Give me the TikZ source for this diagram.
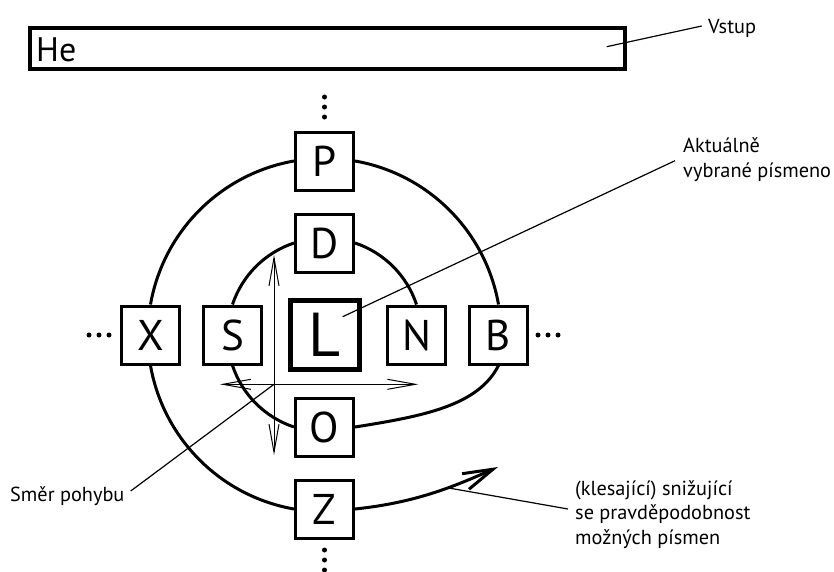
\documentclass[tikz,border=0pt]{standalone}
\usepackage{fontspec}
\setmainfont{PT Sans}
\usetikzlibrary{arrows.meta}
\begin{document}
\begin{tikzpicture}[x=1pt,y=1pt,
  letterbox/.style={draw, line width=3pt, minimum size=58pt, inner sep=0pt,
    font=\fontsize{43}{43}\selectfont},
  currentbox/.style={draw, line width=5pt, minimum size=69pt, inner sep=0pt,
    font=\fontsize{62}{62}\selectfont},
  inputbox/.style={draw, line width=4pt, minimum width=595.5pt, minimum height=41.3pt,
    inner sep=0pt},
  spiral/.style={line width=3pt},
  leader/.style={line width=1.2pt},
  motion/.style={line width=1pt, {Straight Barb[length=28pt,width=10pt]}-{Straight Barb[length=28pt,width=10pt]}},
  label/.style={font=\fontsize{20.3}{24.3}\selectfont, inner sep=0pt, align=left},
  dot/.style={fill=black}
]
\useasboundingbox (0,0) rectangle (834,-571);

% input line
\node (input) [inputbox, anchor=north west] at (27.5,-26) {};
\node (he) [anchor=base west, inner sep=0pt, font=\fontsize{34}{34}\selectfont] at (36,-61) {He};

% letters around the current one
\node (L) [currentbox] at (324.5,-335) {L};
\node (S) [letterbox] at (232.5,-335) {S};
\node (N) [letterbox] at (416.5,-335) {N};
\node (X) [letterbox] at (150.5,-335) {X};
\node (B) [letterbox] at (498.5,-335) {B};
\node (D) [letterbox] at (324.5,-243) {D};
\node (P) [letterbox] at (324.5,-161) {P};
\node (O) [letterbox] at (324.5,-427) {O};
\node (Z) [letterbox] at (324.5,-509) {Z};

% continuation dots
\foreach \y in {97,107,117} \fill[dot] (324.5,-\y) circle (2.5);
\foreach \y in {550,560,570} \fill[dot] (324.5,-\y) circle (2.5);
\foreach \x in {89,99,109} \fill[dot] (\x,-335) circle (2.5);
\foreach \x in {538,548,558} \fill[dot] (\x,-335) circle (2.5);

% spiral through the letters
\coordinate (tip) at (498,-467);
\draw[spiral] (N.north) arc[start angle=18.34, end angle=71.66, radius=96.92]
  (D.west) arc[start angle=108.34, end angle=161.66, radius=96.92]
  (S.south) arc[start angle=198.34, end angle=251.66, radius=96.92];
\draw[spiral] (O.east) .. controls +(9:70) and +(243:45) .. (B.south);
\draw[spiral] (B.north) arc[start angle=9.94, end angle=80.06, radius=176.65]
  (P.west) arc[start angle=99.94, end angle=170.06, radius=176.65]
  (X.south) arc[start angle=189.94, end angle=260.06, radius=176.65];
\draw[spiral, -{Straight Barb[length=30pt,width=17pt]}]
  (Z.east) .. controls +(6:60) and +(204:50) .. coordinate[pos=0.62] (onspiral) (tip);

% directions of movement
\coordinate (up) at (274,-255);
\coordinate (down) at (274,-455);
\coordinate (left) at (220,-384.3);
\coordinate (right) at (418.3,-384.3);
\coordinate (cross) at (274,-384.3);
\draw[motion] (down) -- (up);
\draw[motion] (left) -- (right);

% labels (base anchor sits on the last line)
\node (vstup) [label, anchor=base west] at (708,-33) {Vstup};
\node (aktual) [label, anchor=base west] at (683,-177) {Aktuálně\\vybrané písmeno};
\node (smer) [label, anchor=base west] at (10,-501) {Směr pohybu};
\node (klesa) [label, anchor=base west] at (575,-544) {(klesající) snižující\\se pravděpodobnost\\možných písmen};

\coordinate (inpt) at (606.7,-46.7);
\coordinate (vstupend) at (701.7,-26);
\coordinate (Lpt) at (342.7,-316.7);
\coordinate (aktualend) at (675,-160.7);
\coordinate (smerend) at (130.7,-491);
\coordinate (klesaend) at (568,-509);

\draw[leader] (inpt) -- (vstupend);
\draw[leader] (Lpt) -- (aktualend);
\draw[leader] (cross) -- (smerend);
\draw[leader] (onspiral) -- (klesaend);
\end{tikzpicture}
\end{document}
